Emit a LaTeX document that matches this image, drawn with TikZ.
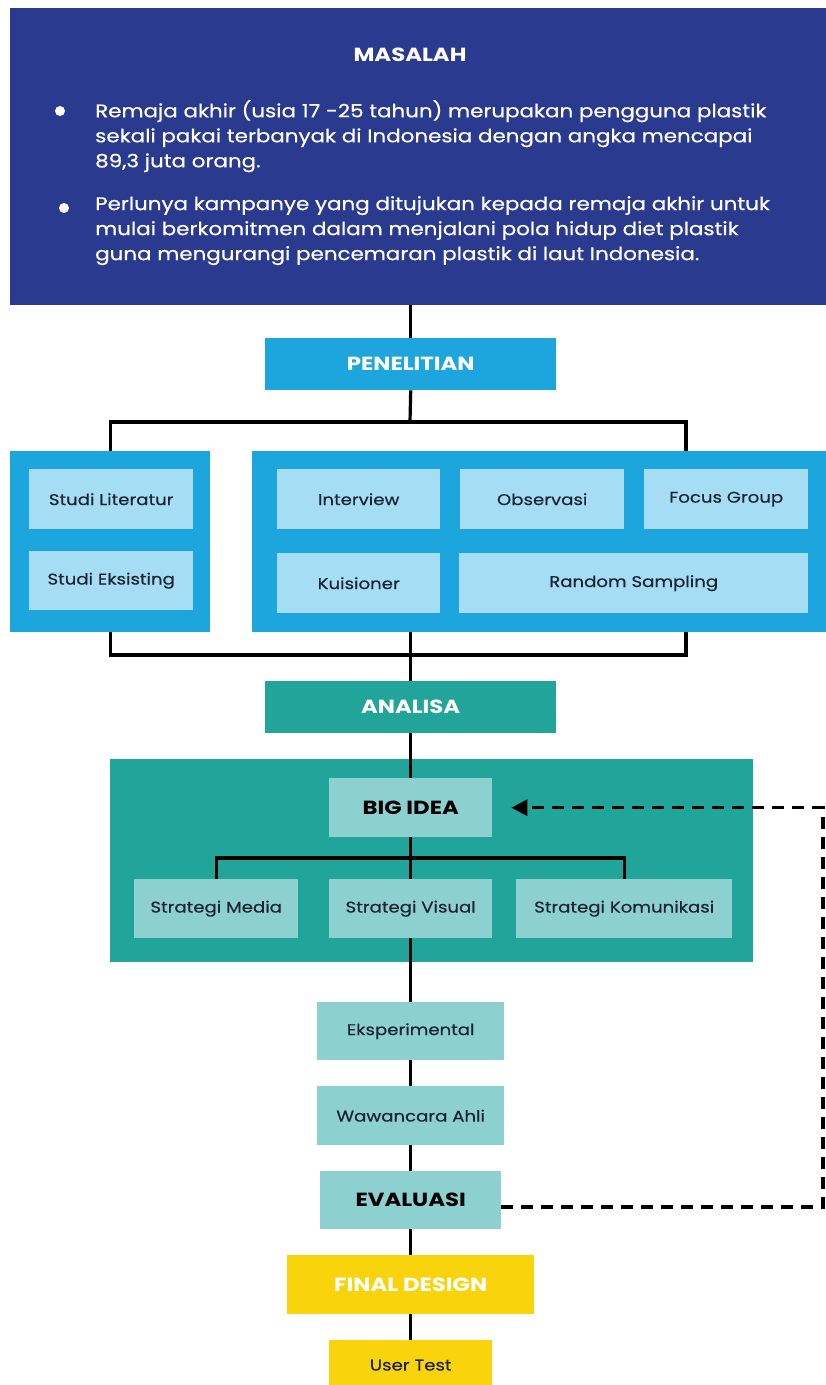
\documentclass[tikz,border=0pt]{standalone}
\usepackage{fontspec}
\setmainfont{Poppins}[FakeStretch=1.2]
\newfontfamily\isifont{Poppins}[FakeStretch=1.17,FakeBold=0.5]
\usetikzlibrary{arrows.meta,positioning}

\definecolor{navy}{HTML}{2A3A8F}
\definecolor{penblue}{HTML}{1DA6DD}
\definecolor{lightblue}{HTML}{A5DDF4}
\definecolor{teal}{HTML}{21A59A}
\definecolor{lightteal}{HTML}{8DD0D0}
\definecolor{kuning}{HTML}{F9D40C}
\definecolor{ink}{HTML}{1B2433}

\begin{document}
\begin{tikzpicture}[x=1pt,y=-1pt,
   box/.style={rectangle,anchor=north west,inner sep=0pt,align=center},
   sz/.style 2 args={minimum width=#1pt,minimum height=#2pt},
   head/.style={font=\bfseries\fontsize{19}{23}\selectfont},
   lbl/.style={font=\isifont\fontsize{15.5}{19}\selectfont,text=ink},
   poin/.style={anchor=north west,inner sep=0pt,align=left,text=white,
                font=\isifont\fontsize{18.3}{25}\selectfont},
   dot/.style={circle,fill=white,inner sep=0pt,minimum size=10pt},
   line/.style={draw=black,line width=3.2pt},
   balikline/.style={draw=black,line width=3.2pt,dash pattern=on 12pt off 8pt},
   >={Triangle[length=16pt,width=16pt]}]
  \useasboundingbox (0,0) rectangle (826,1385);
  % masalah
  \node[box,sz={816}{297},fill=navy] (masalah) at (10,8) {};
  \node[head,text=white] (judul) at (410,55) {MASALAH};
  \node[dot] (dot1) at (60,111) {};
  \node[dot] (dot2) at (64,208) {};
  \node[poin] (poin1) at (95,100) {Remaja akhir (usia 17 -25 tahun) merupakan pengguna plastik\\
    sekali pakai terbanyak di Indonesia dengan angka mencapai\\89,3 juta orang.};
  \node[poin] (poin2) at (95,196) {Perlunya kampanye yang ditujukan kepada remaja akhir untuk\\
    mulai berkomitmen dalam menjalani pola hidup diet plastik\\
    guna mengurangi pencemaran plastik di laut Indonesia.};
  % penelitian
  \node[box,sz={291}{52},fill=penblue,head,text=white] (pen) at (265,338) {PENELITIAN};
  \node[box,sz={200}{181},fill=penblue] (lbox) at (10,451) {};
  \node[box,sz={574}{181},fill=penblue] (rbox) at (252,451) {};
  \node[box,sz={164}{60},fill=lightblue,lbl] (literatur) at (29,469) {Studi Literatur};
  \node[box,sz={164}{59},fill=lightblue,lbl] (eksisting) at (29,551) {Studi Eksisting};
  \node[box,sz={163}{60},fill=lightblue,lbl] (interview) at (277,469) {Interview};
  \node[box,sz={164}{60},fill=lightblue,lbl] (observasi) at (460,469) {Observasi};
  \node[box,sz={164}{60},fill=lightblue,lbl] (fgd) at (644,469) {Focus Group};
  \node[box,sz={163}{60},fill=lightblue,lbl] (kuisioner) at (277,553) {Kuisioner};
  \node[box,sz={349}{60},fill=lightblue,lbl] (sampling) at (459,553) {Random Sampling};
  % analisa
  \node[box,sz={291}{52},fill=teal,head,text=white] (ana) at (265,681) {ANALISA};
  \node[box,sz={643}{203},fill=teal] (ideabox) at (110,759) {};
  \node[box,sz={163}{59},fill=lightteal,head,text=black] (bigidea) at (329,778) {BIG IDEA};
  \node[box,sz={164}{59},fill=lightteal,lbl] (media) at (134,879) {Strategi Media};
  \node[box,sz={163}{59},fill=lightteal,lbl] (visual) at (329,879) {Strategi Visual};
  \node[box,sz={216}{59},fill=lightteal,lbl] (komunikasi) at (516,879) {Strategi Komunikasi};
  % evaluasi
  \node[box,sz={187}{58},fill=lightteal,lbl] (eksp) at (317,1002) {Eksperimental};
  \node[box,sz={187}{59},fill=lightteal,lbl] (ahli) at (317,1086) {Wawancara Ahli};
  \node[box,sz={181}{58},fill=lightteal,head,text=black] (eval) at (320,1171) {EVALUASI};
  \node[box,sz={247}{59},fill=kuning,head,text=white] (final) at (287,1255) {FINAL DESIGN};
  \node[box,sz={163}{50},fill=kuning,lbl] (usertest) at (329,1340) {User Test};

  \coordinate (bustop) at (410,422);
  \coordinate (rtop) at (686,451);
  \coordinate (busbot) at (410,655);
  \coordinate (rbot) at (686,632);
  \coordinate (sbus) at (410,858);
  \coordinate (balik) at (823,1207);

  \draw[line] (masalah.south -| pen.north) -- (pen.north);
  \draw[line] (pen.south) -- (bustop);
  \draw[line] (lbox.north) |- (bustop) -| (rtop);
  \draw[line] (lbox.south) |- (busbot) -| (rbot);
  \draw[line] (rbox.south -| ana.north) -- (ana.north);
  \draw[line] (ana.south) -- (bigidea.north);
  \draw[line] (bigidea.south) -- (visual.north);
  \draw[line] (media.north) |- (sbus) -| (komunikasi.north);
  \draw[line] (visual.south) -- (eksp.north);
  \draw[line] (eksp.south) -- (ahli.north);
  \draw[line] (ahli.south) -- (eval.north);
  \draw[line] (eval.south) -- (final.north);
  \draw[line] (final.south) -- (usertest.north);
  \draw[balikline,->,shorten >=19pt] (eval.east |- balik) -- (balik) |- (bigidea.east);
\end{tikzpicture}
\end{document}
